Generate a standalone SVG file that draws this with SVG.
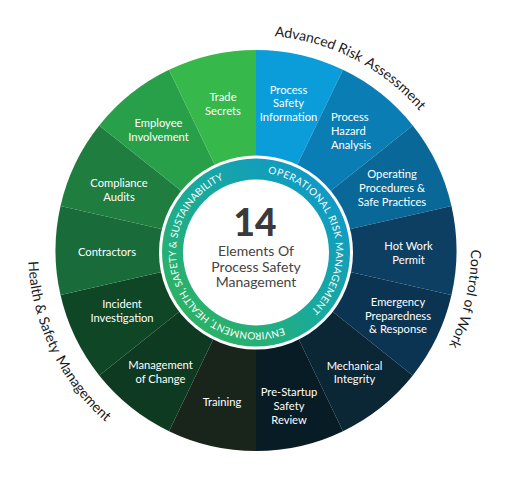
<svg xmlns="http://www.w3.org/2000/svg" width="509" height="480" viewBox="0 0 509 480">
<style>
.seg text{font-family:Lato,"Open Sans",sans-serif;font-size:11.2px;fill:#fff;text-anchor:middle}
.outer{font-family:Lato,"Open Sans",sans-serif;font-size:14px;fill:#1a1a1a}
.ring{font-family:Lato,"Open Sans",sans-serif;font-size:10px;fill:#fff}
.ctr{font-family:Lato,"Open Sans",sans-serif;fill:#444;text-anchor:middle}
</style>
<defs>
<linearGradient id="rg" x1="0" y1="1" x2="1" y2="0">
<stop offset="0" stop-color="#35B54A"/>
<stop offset="0.5" stop-color="#18AA9C"/>
<stop offset="1" stop-color="#0C93D8"/>
</linearGradient>
<path id="pAdv" d="M256 35.5 A215 215 0 0 1 429.94 124.13"/>
<path id="pCtl" d="M464.61 198.49 A215 215 0 0 1 420.7 388.7"/>
<path id="pHsm" d="M28.08 244.53 A228 228 0 0 0 117.2 431.38"/>
<path id="pRing" d="M256 172.5 A80 80 0 1 1 256 332.5 A80 80 0 1 1 256 172.5"/>
</defs>
<rect width="509" height="480" fill="#fff"/>
<g id="segments">
<g id="s0" class="seg"><path d="M256 250.5 L256 50 A200.5 200.5 0 0 1 342.99 69.86 Z" fill="#0B9DD9"/>
<text x="288.5" y="93.5">Process</text><text x="288.5" y="107">Safety</text><text x="288.5" y="120.5">Information</text></g>
<g id="s1" class="seg"><path d="M256 250.5 L342.99 69.86 A200.5 200.5 0 0 1 412.76 125.49 Z" fill="#0A7DB4"/>
<text x="331" y="121.3" style="text-anchor:start">Process</text><text x="331" y="135" style="text-anchor:start">Hazard</text><text x="331" y="148.5" style="text-anchor:start">Analysis</text></g>
<g id="s2" class="seg"><path d="M256 250.5 L412.76 125.49 A200.5 200.5 0 0 1 451.47 205.88 Z" fill="#0A6898"/>
<text x="392" y="178">Operating</text><text x="392" y="192">Procedures &amp;</text><text x="392" y="205.5">Safe Practices</text></g>
<g id="s3" class="seg"><path d="M256 250.5 L451.47 205.88 A200.5 200.5 0 0 1 451.47 295.12 Z" fill="#0D3F63"/>
<text x="408.5" y="250">Hot Work</text><text x="408.5" y="263.5">Permit</text></g>
<g id="s4" class="seg"><path d="M256 250.5 L451.47 295.12 A200.5 200.5 0 0 1 412.76 375.51 Z" fill="#0B3352"/>
<text x="398" y="306">Emergency</text><text x="398" y="319.5">Preparedness</text><text x="398" y="332.5">&amp; Response</text></g>
<g id="s5" class="seg"><path d="M256 250.5 L412.76 375.51 A200.5 200.5 0 0 1 342.99 431.14 Z" fill="#0B2634"/>
<text x="354.5" y="369.5">Mechanical</text><text x="354.5" y="383">Integrity</text></g>
<g id="s6" class="seg"><path d="M256 250.5 L342.99 431.14 A200.5 200.5 0 0 1 256 451 Z" fill="#071C24"/>
<text x="289" y="396">Pre-Startup</text><text x="289" y="410">Safety</text><text x="289" y="423.5">Review</text></g>
<g id="s7" class="seg"><path d="M256 250.5 L256 451 A200.5 200.5 0 0 1 169.01 431.14 Z" fill="#19251B"/>
<text x="222" y="406">Training</text></g>
<g id="s8" class="seg"><path d="M256 250.5 L169.01 431.14 A200.5 200.5 0 0 1 99.24 375.51 Z" fill="#0E3A22"/>
<text x="160.5" y="369">Management</text><text x="160.5" y="382.5">of Change</text></g>
<g id="s9" class="seg"><path d="M256 250.5 L99.24 375.51 A200.5 200.5 0 0 1 60.53 295.12 Z" fill="#0F4626"/>
<text x="122" y="308">Incident</text><text x="122" y="322">Investigation</text></g>
<g id="s10" class="seg"><path d="M256 250.5 L60.53 295.12 A200.5 200.5 0 0 1 60.53 205.88 Z" fill="#1A6B3A"/>
<text x="107" y="256">Contractors</text></g>
<g id="s11" class="seg"><path d="M256 250.5 L60.53 205.88 A200.5 200.5 0 0 1 99.24 125.49 Z" fill="#1E7D3F"/>
<text x="119" y="187">Compliance</text><text x="119" y="201">Audits</text></g>
<g id="s12" class="seg"><path d="M256 250.5 L99.24 125.49 A200.5 200.5 0 0 1 169.01 69.86 Z" fill="#28A049"/>
<text x="158.5" y="127">Employee</text><text x="158.5" y="140.5">Involvement</text></g>
<g id="s13" class="seg"><path d="M256 250.5 L169.01 69.86 A200.5 200.5 0 0 1 256 50 Z" fill="#36B84A"/>
<text x="223" y="101">Trade</text><text x="223" y="114.5">Secrets</text></g>
</g>
<g id="ring">
<circle cx="256" cy="252.5" r="95.5" fill="url(#rg)" stroke="#fff" stroke-width="3"/>
<circle cx="256" cy="252.5" r="73" fill="#fff"/>
<text class="ring"><textPath href="#pRing" startOffset="11.9" textLength="73.3" lengthAdjust="spacing">OPERATIONAL</textPath></text>
<text class="ring"><textPath href="#pRing" startOffset="89" textLength="22.3" lengthAdjust="spacing">RISK</textPath></text>
<text class="ring"><textPath href="#pRing" startOffset="115.1" textLength="75.1" lengthAdjust="spacing">MANAGEMENT</textPath></text>
<text class="ring"><textPath href="#pRing" startOffset="222.8" textLength="74.2" lengthAdjust="spacing">ENVIRONMENT,</textPath></text>
<text class="ring"><textPath href="#pRing" startOffset="299.7" textLength="40.2" lengthAdjust="spacing">HEALTH,</textPath></text>
<text class="ring"><textPath href="#pRing" startOffset="342.6" textLength="45.1" lengthAdjust="spacing">SAFETY &amp;</textPath></text>
<text class="ring"><textPath href="#pRing" startOffset="390.4" textLength="78.2" lengthAdjust="spacing">SUSTAINABILITY</textPath></text>
</g>
<g id="center">
<text class="ctr" x="255" y="236" style="font-size:37px;font-weight:900;fill:#3a3a3a">14</text>
<text class="ctr" x="256" y="255.5" style="font-size:14px">Elements Of</text>
<text class="ctr" x="256" y="271.5" style="font-size:14px">Process Safety</text>
<text class="ctr" x="256" y="287" style="font-size:14px">Management</text>
</g>
<g id="labels">
<text class="outer"><textPath href="#pAdv" startOffset="18.5">Advanced Risk</textPath></text>
<text class="outer"><textPath href="#pAdv" startOffset="113">Assessment</textPath></text>
<text class="outer" text-anchor="middle"><textPath href="#pCtl" startOffset="50%">Control of Work</textPath></text>
<text class="outer"><textPath href="#pHsm" startOffset="17">Health &amp; Safety</textPath></text>
<text class="outer"><textPath href="#pHsm" startOffset="119">Management</textPath></text>
</g>
</svg>
